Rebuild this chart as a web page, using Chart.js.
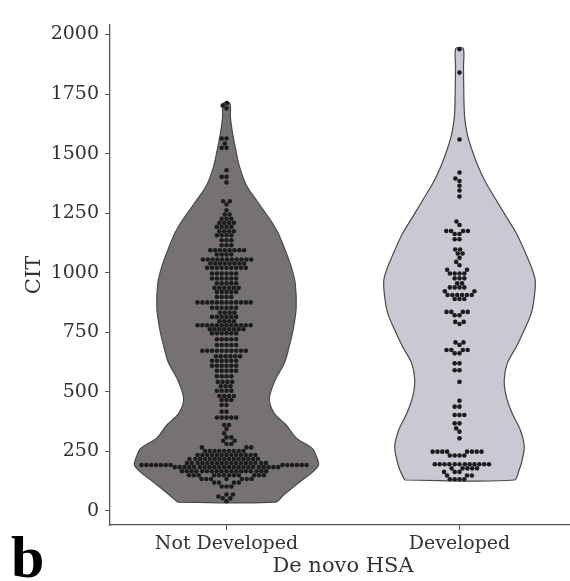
<!DOCTYPE html>
<html>
<head>
<meta charset="utf-8">
<script src="https://cdn.jsdelivr.net/npm/chart.js@4.4.1/dist/chart.umd.min.js"></script>
<style>
  body { margin: 0; overflow: hidden; background: #fff; }
  #wrap { width: 580px; height: 581px; }
</style>
</head>
<body>
<div id="wrap"><canvas id="myChart" width="580" height="581"></canvas></div>
<script>
const groups = ['Not Developed', 'Developed'];
const yTicks = [0, 250, 500, 750, 1000, 1250, 1500, 1750, 2000];

// violin outlines: CIT level and half width (in category units)
const notDevLevels = [36, 66, 129, 157, 192, 230, 262, 305, 360, 409, 470, 549, 619, 689, 760, 850, 955, 1024, 1094, 1165, 1200, 1234, 1270, 1305, 1340, 1375, 1444, 1500, 1585, 1650, 1711];
const notDevHalfWidth = [0.21, 0.245, 0.325, 0.363, 0.395, 0.385, 0.368, 0.30, 0.256, 0.205, 0.184, 0.209, 0.248, 0.269, 0.286, 0.299, 0.295, 0.278, 0.252, 0.222, 0.202, 0.179, 0.153, 0.128, 0.102, 0.081, 0.056, 0.043, 0.026, 0.017, 0.014];
const devLevels = [129, 171, 213, 269, 339, 409, 479, 549, 619, 689, 759, 829, 898, 967, 1024, 1094, 1165, 1234, 1304, 1374, 1444, 1514, 1584, 1654, 1724, 1864, 1941];
const devHalfWidth = [0.235, 0.256, 0.269, 0.278, 0.261, 0.226, 0.201, 0.192, 0.205, 0.244, 0.278, 0.308, 0.321, 0.325, 0.308, 0.278, 0.244, 0.201, 0.158, 0.115, 0.081, 0.054, 0.033, 0.022, 0.019, 0.017, 0.016];

// observations, as [CIT, number of patients]
const notDevValues = [
  [40, 1], [52, 2], [60, 1], [68, 2], [102, 3], [118, 4], [133, 7], [149, 12], [166, 18], [183, 22],
  [192, 13], [200, 17], [217, 15], [234, 13], [251, 9], [266, 3], [280, 2], [294, 2], [308, 2],
  [325, 1], [343, 1], [360, 2], [391, 5], [416, 2], [444, 2], [465, 3], [482, 4], [504, 4], [523, 3],
  [541, 4], [565, 4], [588, 5], [609, 6], [630, 6], [649, 6], [672, 10], [696, 5], [720, 5], [745, 6],
  [762, 8], [779, 12], [796, 4], [814, 6], [832, 4], [852, 6], [875, 12], [898, 4], [919, 5], [936, 6],
  [955, 5], [975, 6], [996, 6], [1020, 9], [1038, 8], [1055, 11], [1076, 4], [1094, 8], [1115, 3],
  [1136, 3], [1157, 4], [1174, 4], [1192, 4], [1209, 4], [1226, 3], [1244, 2], [1262, 1], [1286, 1],
  [1300, 2], [1379, 1], [1402, 2], [1430, 1], [1524, 2], [1542, 1], [1563, 2], [1690, 1], [1702, 1], [1712, 1]
];
const devValues = [
  [132, 4], [148, 3], [163, 3], [178, 5], [195, 12], [232, 4], [248, 8], [304, 1], [332, 1], [346, 1],
  [367, 2], [402, 3], [437, 2], [462, 1], [541, 1], [590, 2], [619, 2], [661, 2], [675, 4], [696, 1],
  [707, 2], [784, 1], [793, 2], [821, 2], [835, 4], [889, 3], [906, 6], [922, 2], [938, 4], [955, 2],
  [976, 3], [996, 4], [1012, 2], [1031, 1], [1045, 1], [1062, 1], [1080, 2], [1097, 2], [1140, 2],
  [1162, 2], [1175, 4], [1200, 1], [1215, 1], [1320, 1], [1345, 1], [1365, 1], [1385, 1], [1395, 1],
  [1420, 1], [1559, 1], [1840, 1], [1938, 1]
];

const serif = 'DejaVu Serif';
const axisColor = '#555';
const textColor = '#333';

const expand = rows => rows.flatMap(([v, n]) => Array(n).fill(v));
const notDev = expand(notDevValues);
const dev = expand(devValues);

function outline(center, levels, halfWidth) {
  const left = levels.map((v, i) => ({ x: center - halfWidth[i], y: v }));
  const right = levels.map((v, i) => ({ x: center + halfWidth[i], y: v })).reverse();
  return left.concat(right, [left[0]]);
}

function violin(center, levels, halfWidth, fillColor) {
  return {
    data: outline(center, levels, halfWidth),
    showLine: true,
    fill: 'shape',
    tension: 0.3,
    backgroundColor: fillColor,
    borderColor: '#4a4a4a',
    borderWidth: 1.2,
    pointRadius: 0,
    order: 2
  };
}

function dots(center, values) {
  return {
    data: values.map(v => ({ x: center, y: v })),
    pointRadius: 2.3,
    pointBorderWidth: 0,
    backgroundColor: '#1c1c1c',
    order: 1
  };
}

// beeswarm: place each point (lowest first) as close to the middle as it fits
function swarm(values, yScale, unitPx) {
  const d = 4.6;
  const order = values.map((v, i) => i).sort((a, b) => values[a] - values[b]);
  const placed = [];
  const offsets = new Array(values.length);
  for (const i of order) {
    const py = yScale.getPixelForValue(values[i]);
    const near = placed.filter(p => Math.abs(p.y - py) < d);
    const cands = [0];
    let leftFirst = true;
    for (const p of near) {
      const dx = Math.sqrt(Math.max(d * d - (py - p.y) ** 2, 0)) * 1.05;
      cands.push(...(leftFirst ? [p.x - dx, p.x + dx] : [p.x + dx, p.x - dx]));
      leftFirst = !leftFirst;
    }
    cands.sort((a, b) => Math.abs(a) - Math.abs(b));
    const x = cands.find(c => near.every(p => (c - p.x) ** 2 + (py - p.y) ** 2 >= d * d - 1e-6));
    placed.push({ x, y: py });
    offsets[i] = x / unitPx;
  }
  return offsets;
}

const panelLabel = {
  id: 'panelLabel',
  afterDraw(chart) {
    const c = chart.ctx;
    c.save();
    c.font = 'bold 60px "Liberation Serif"';
    c.fillStyle = '#000';
    c.textBaseline = 'alphabetic';
    c.fillText('b', 11, 577);
    c.restore();
  }
};

const ctx = document.getElementById('myChart');
const chart = new Chart(ctx, {
  type: 'scatter',
  data: {
    datasets: [
      violin(0, notDevLevels, notDevHalfWidth, '#767274'),
      violin(1, devLevels, devHalfWidth, '#c8c9d3'),
      dots(0, notDev),
      dots(1, dev)
    ]
  },
  options: {
    responsive: false,
    animation: false,
    devicePixelRatio: 1,
    layout: { padding: { top: 25, right: 3, left: 0, bottom: 0 } },
    plugins: { legend: { display: false }, tooltip: { enabled: false } },
    scales: {
      x: {
        type: 'linear',
        min: -0.5,
        max: 1.5,
        afterBuildTicks: s => { s.ticks = groups.map((g, i) => ({ value: i })); },
        afterFit: s => { s.height = 56; },
        ticks: {
          callback: v => groups[v],
          font: { family: serif, size: 19 },
          color: textColor,
          padding: 3,
          maxRotation: 0
        },
        grid: { drawOnChartArea: false, tickLength: 5, color: axisColor, tickColor: axisColor },
        border: { color: axisColor, width: 1.3 },
        title: {
          display: true,
          text: 'De novo HSA',
          font: { family: serif, size: 21 },
          color: textColor,
          padding: { top: 0, bottom: 2 }
        }
      },
      y: {
        min: -60,
        max: 2040,
        afterBuildTicks: s => { s.ticks = yTicks.map(v => ({ value: v })); },
        afterFit: s => { s.width = 110; },
        ticks: {
          callback: v => String(v),
          font: { family: serif, size: 19 },
          color: textColor,
          padding: 6
        },
        grid: { drawOnChartArea: false, tickLength: 5, color: axisColor, tickColor: axisColor },
        border: { color: axisColor, width: 1.3 },
        title: {
          display: true,
          text: 'CIT',
          font: { family: serif, size: 21 },
          color: textColor,
          padding: { top: 22, bottom: 0 }
        }
      }
    }
  },
  plugins: [panelLabel]
});

// spread the dots sideways now that the scales have pixel sizes
const unitPx = chart.scales.x.getPixelForValue(1) - chart.scales.x.getPixelForValue(0);
[[2, 0, notDev], [3, 1, dev]].forEach(([ds, center, values]) => {
  const offs = swarm(values, chart.scales.y, unitPx);
  chart.data.datasets[ds].data = values.map((v, i) => ({ x: center + offs[i], y: v }));
});
chart.update('none');
</script>
</body>
</html>
